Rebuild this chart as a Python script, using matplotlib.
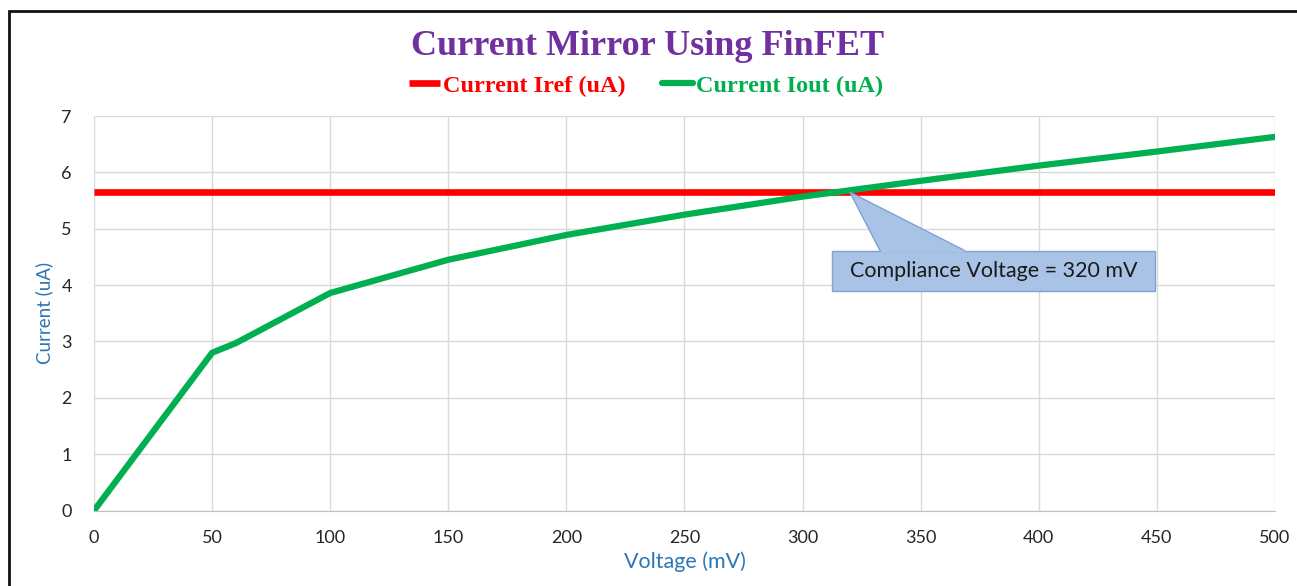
import matplotlib
matplotlib.use("Agg")
import matplotlib.pyplot as plt
from matplotlib.patches import Rectangle, Polygon

# data
voltage_mv = [0, 50, 60, 100, 150, 200, 250, 300, 350, 400, 450, 500]
iout_ua = [0.0, 2.80, 2.97, 3.86, 4.45, 4.89, 5.25, 5.57, 5.85, 6.12, 6.37, 6.63]
iref_ua = [5.65] * len(voltage_mv)
x_ticks = [0, 50, 100, 150, 200, 250, 300, 350, 400, 450, 500]
y_ticks = [0, 1, 2, 3, 4, 5, 6, 7]
callout_text = "Compliance Voltage = 320 mV"
callout_tip = (320, 5.65)

fig = plt.figure(figsize=(12.97, 5.86), dpi=100)
ax = fig.add_axes([0.0725, 0.1288, 0.9105, 0.6732])

ax.plot(voltage_mv, iref_ua, color="#ff0000", lw=4.8, solid_capstyle="butt",
        label="Current Iref (uA)", zorder=3)
ax.plot(voltage_mv, iout_ua, color="#00b050", lw=4.5, solid_capstyle="round",
        label="Current Iout (uA)", zorder=4)

ax.set_xlim(0, 500)
ax.set_ylim(0, 7)
ax.set_xticks(x_ticks)
ax.set_yticks(y_ticks)
ax.grid(True, color="#d9d9d9", lw=1)
ax.set_axisbelow(True)
for side in ["left", "top", "right"]:
    ax.spines[side].set_visible(False)
ax.spines["bottom"].set_color("#bfbfbf")
ax.tick_params(length=0, labelsize=13, labelcolor="#262626")
ax.tick_params(axis="x", pad=14)
ax.tick_params(axis="y", pad=16)
for lab in ax.get_xticklabels() + ax.get_yticklabels():
    lab.set_family("Lato")

ax.set_xlabel("Voltage (mV)", fontsize=15.5, color="#2e75b6", family="Lato", labelpad=4)
ax.set_ylabel("Current (uA)", fontsize=13.5, color="#2e75b6", family="Lato", labelpad=6)

# callout box with pointer
box_x0, box_x1 = 312.4, 449.2
box_y0, box_y1 = 3.90, 4.61
ptr = Polygon([(332.8, box_y1), callout_tip, (368.8, box_y1)], closed=True,
              facecolor="#a8c3e6", edgecolor="#7fa3d6", lw=1, zorder=5)
ax.add_patch(ptr)
ax.add_patch(Rectangle((box_x0, box_y0), box_x1 - box_x0, box_y1 - box_y0,
                       facecolor="#a8c3e6", edgecolor="#7fa3d6", lw=1, zorder=5))
ax.plot([333.5, 368.1], [box_y1, box_y1], color="#a8c3e6", lw=1.5, zorder=6)
ax.text((box_x0 + box_x1) / 2, (box_y0 + box_y1) / 2, callout_text,
        ha="center", va="center", fontsize=15.5, family="Lato", color="#1a1a1a", zorder=7)

fig.text(0.499, 0.921, "Current Mirror Using FinFET", ha="center", va="center",
         fontsize=26, fontweight="bold", family="Liberation Serif", color="#7030a0")

leg = ax.legend(loc="center", bbox_to_anchor=(0.498, 0.854), bbox_transform=fig.transFigure,
                ncol=2, frameon=False, handlelength=1.3, handletextpad=0.1,
                columnspacing=1.5, prop={"family": "Liberation Serif", "weight": "bold", "size": 17.5})
for txt, c in zip(leg.get_texts(), ["#ff0000", "#00b050"]):
    txt.set_color(c)

# outer frame (right and bottom edges fall outside the image)
fig.patches.append(Rectangle((9 / 1297, -0.1), 1.2, 1.1 - 11 / 586,
                             transform=fig.transFigure, fill=False,
                             edgecolor="#111111", lw=2))

fig.savefig("out.png", dpi=100)
